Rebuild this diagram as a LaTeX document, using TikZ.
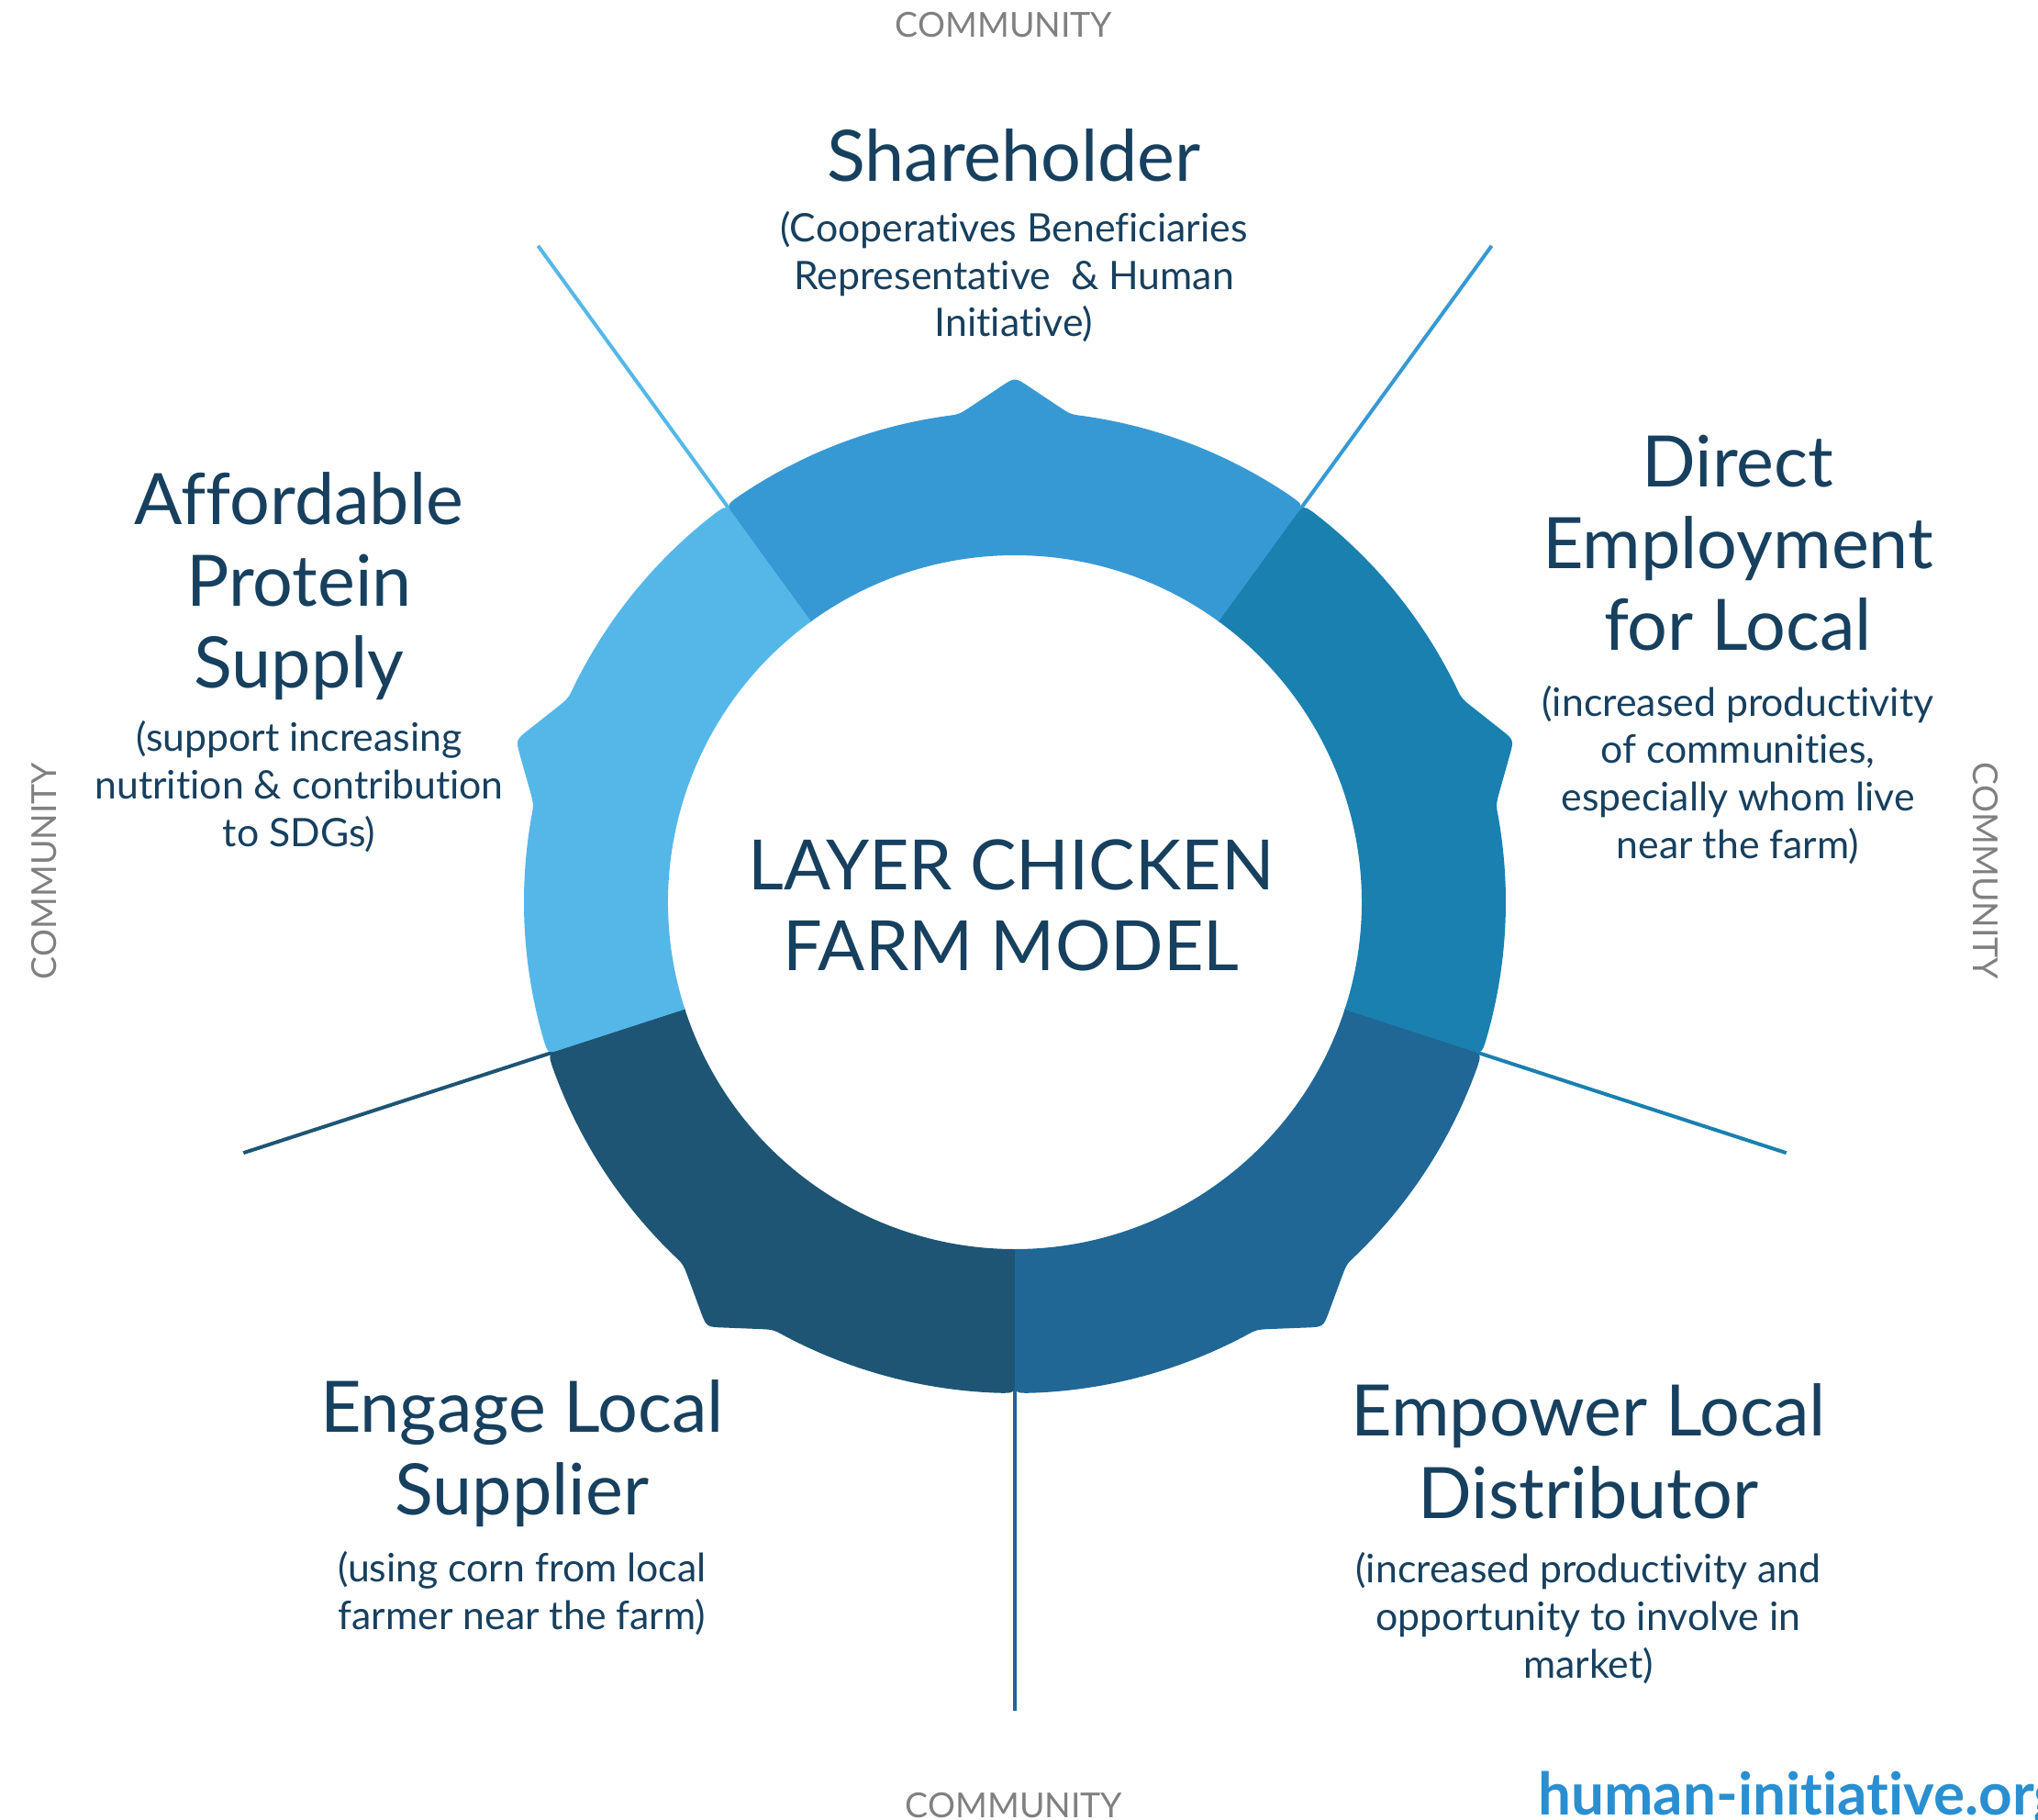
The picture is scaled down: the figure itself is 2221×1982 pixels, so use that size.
\documentclass[tikz,border=0pt]{standalone}
\usepackage{fontspec}
\setmainfont{Lato}[Ligatures=NoCommon]
\usetikzlibrary{calc}

\definecolor{topblue}{HTML}{3799D4}
\definecolor{leftblue}{HTML}{55B7E8}
\definecolor{lowleft}{HTML}{1E5574}
\definecolor{lowright}{HTML}{206796}
\definecolor{rightblue}{HTML}{1A80B0}
\definecolor{navy}{HTML}{17405F}
\definecolor{webblue}{HTML}{2A8FD0}
\definecolor{commgray}{HTML}{808080}

\tikzset{
head/.style={text=navy, font=\fontsize{66}{76}\selectfont, align=center, anchor=base, inner sep=0pt},
sub/.style={text=navy, font=\fontsize{36.5}{44}\selectfont, align=center, anchor=base, inner sep=0pt},
comm/.style={text=commgray, font=\fontsize{32}{38}\selectfont, anchor=base, inner sep=0pt},
sep/.style={line width=3.4pt}
}

% one part of the ring, #1 = middle angle, #2 = colour
\newcommand{\gearpart}[2]{%
\fill[#2] ({#1-36}:378) -- ({#1-36}:518) .. controls ({#1-36}:535) .. ({#1-34.2}:535)
	arc[start angle={#1-34.2}, end angle={#1-8}, radius=535]
	.. controls ({#1-6.5}:535) .. ($({#1-6.5}:535)!0.25!(#1:572)$)
	-- ($({#1-6.5}:535)!0.75!(#1:572)$) .. controls (#1:572) .. ($({#1+6.5}:535)!0.75!(#1:572)$)
	-- ($({#1+6.5}:535)!0.25!(#1:572)$) .. controls ({#1+6.5}:535) .. ({#1+8}:535)
	arc[start angle={#1+8}, end angle={#1+34.2}, radius=535]
	.. controls ({#1+36}:535) .. ({#1+36}:518) -- ({#1+36}:378)
	arc[start angle={#1+36}, end angle={#1-36}, radius=378] -- cycle;
}

\begin{document}
\begin{tikzpicture}[x=0.3mm, y=0.3mm]
\useasboundingbox (-1106,-999) rectangle (1115,983);

% separators
\coordinate (ulin) at (126:378);
\coordinate (ul) at (126:884);
\coordinate (urin) at (54:378);
\coordinate (ur) at (54:884);
\coordinate (lrin) at (342:378);
\coordinate (lr) at (342:884);
\coordinate (botin) at (270:378);
\coordinate (bot) at (270:881);
\coordinate (llin) at (198:378);
\coordinate (ll) at (198:884);
\draw[sep, leftblue] (ulin)	--	(ul);
\draw[sep, topblue] (urin)	--	(ur);
\draw[sep, rightblue] (lrin)	--	(lr);
\draw[sep, lowright] (botin)	--	(bot);
\draw[sep, lowleft] (llin)	--	(ll);

% ring
\gearpart{90}{topblue}
\gearpart{162}{leftblue}
\gearpart{234}{lowleft}
\gearpart{306}{lowright}
\gearpart{18}{rightblue}

% anchor base = baseline of the last line
\node[head, font=\fontsize{64.5}{75}\selectfont] (hub) at (-4,-74){LAYER CHICKEN\\FARM MODEL};

\node[head] (share) at (-1,785){Shareholder};
\node[sub] (sharetxt) at (-1,616){(Cooperatives Beneficiaries\\Representative\ \ \& Human\\Initiative)};
\node[head] (protein) at (-780,233){Affordable\\Protein\\Supply};
\node[sub] (proteintxt) at (-780,61){(support increasing\\nutrition \& contribution\\to SDGs)};
\node[head] (employ) at (788,274){Direct\\Employment\\for Local};
\node[sub] (employtxt) at (788,48){(increased productivity\\of communities,\\especially whom live\\near the farm)};
\node[head] (supplier) at (-537,-667){Engage Local\\Supplier};
\node[sub] (suppliertxt) at (-537,-792){(using corn from local\\farmer near the farm)};
\node[head] (distrib) at (625,-671){Empower Local\\Distributor};
\node[sub] (distribtxt) at (625,-845){(increased productivity and\\opportunity to involve in\\market)};

\node[comm] (commtop) at (-12,942){COMMUNITY};
\node[comm] (commbot) at (-1,-997){COMMUNITY};
\node[comm, rotate=90] (commleft) at (-1044,34){COMMUNITY};
\node[comm, rotate=-90] (commright) at (1044,34){COMMUNITY};

\node[text=webblue, font=\fontsize{54.5}{60}\selectfont\bfseries, anchor=base west, inner sep=0pt] (site) at (570,-994){human-initiative.org};
\end{tikzpicture}
\end{document}
